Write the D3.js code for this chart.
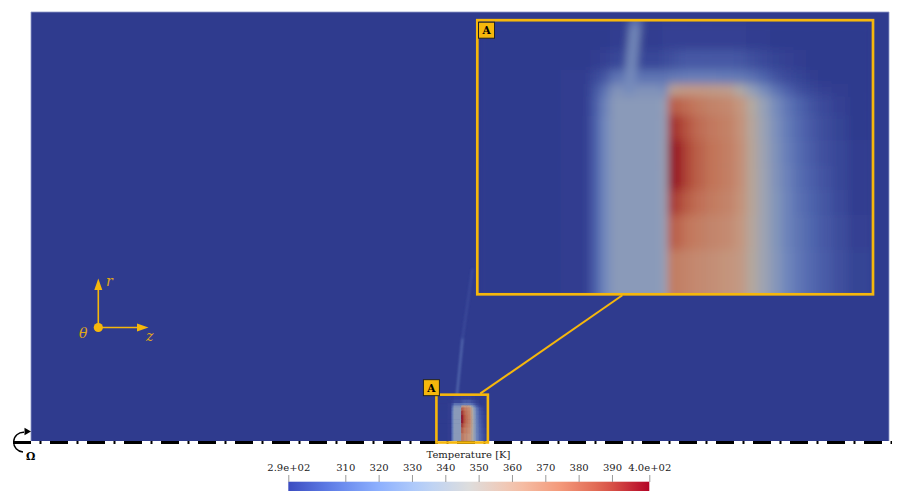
<!DOCTYPE html>
<html>
<head>
<meta charset="utf-8">
<script src="https://cdn.jsdelivr.net/npm/d3@7"></script>
<style>
  body { margin: 0; background: #fff; }
  svg { display: block; }
</style>
</head>
<body>
<svg id="chart" width="899" height="491"></svg>
<script>
// ---- data ----
// temperature field [K] around the two heated parts; z (mm) column edges, r (mm) row edges (top to bottom)
const zEdges = [94.5, 97.01, 97.92, 98.22, 98.52, 100.10, 100.28, 100.53, 100.77, 101.07, 101.44, 101.86,
                102.28, 102.65, 103.01, 103.38, 103.74, 104.10, 104.47, 104.83, 105.26, 105.74, 106.5];
const rEdges = [10.8, 9.63, 8.84, 8.29, 7.81, 7.06, 6.08, 5.09, 4.11, 3.13, 1.75, 0];
const fieldT = [
    [293,293,293,293,294,295,295,295,295,295,295,295,295,294,294,293,293,293,293,293,293,293],
    [293,293,294,295,297,299,300,302,303,303,303,303,302,300,298,296,295,294,293,293,293,293],
    [293,294,298,302,312,312,314,315,316,316,316,315,314,311,306,301,298,296,294,293,293,293],
    [293,294,302,312,326,320,354,358,359,359,358,356,346,333,322,312,305,300,297,295,294,293],
    [293,294,304,318,330,335,382,379,376,372,369,367,361,348,334,322,313,306,301,298,295,293],
    [293,294,305,320,330,336,394,389,383,377,373,370,363,350,336,324,315,308,303,299,296,293],
    [293,294,305,320,330,338,401,394,387,380,375,371,364,351,337,325,316,309,304,300,297,294],
    [293,294,305,320,330,338,401,394,387,380,375,371,364,351,338,326,317,310,305,301,297,294],
    [293,294,305,320,330,337,392,387,381,376,372,369,363,351,338,327,318,311,306,302,298,294],
    [293,294,305,320,330,336,382,378,374,371,368,366,361,350,338,327,318,312,307,303,299,295],
    [293,294,305,320,330,335,372,370,368,366,364,362,359,349,338,328,319,313,308,304,300,296]
];
const ambientT = 293;
// thin warm plume rising from the left part
const plumeZ = [99.1, 99.3, 100.6, 102.9];
const plumeR = [8.0, 10.8, 24, 40];
const plumeT = [326, 318, 302, 295];

// colour bar
const tRange = [292.9, 401.2];
const cbTicks = [292.9, 310, 320, 330, 340, 350, 360, 370, 380, 390, 401.2];
const cbLabels = ["2.9e+02", "310", "320", "330", "340", "350", "360", "370", "380", "390", "4.0e+02"];

// view windows (mm)
const zMain = [0, 200], rMain = [0, 100];
const zZoom = [94.5, 106.5], rZoom = [0, 10.8];

// ---- setup ----
const svg = d3.select('#chart');
const defs = svg.append('defs');
const gold = '#f6b70c';

// ParaView "Cool to Warm"
const cwStops = [[59,76,192],[98,130,234],[141,176,254],[184,208,249],[221,221,221],[245,196,173],[244,154,123],[222,96,77],[180,4,38]];
const coolWarm = d3.piecewise(d3.interpolateRgb, cwStops.map(c => d3.rgb(c[0], c[1], c[2])));
const tScale = d3.scaleLinear().domain(tRange).range([0, 1]).clamp(true);
const shade = [0.8, 0.77, 0.74];   // lit surface is darker than the bar
function fieldColor(T) {
    const c = d3.rgb(coolWarm(tScale(T)));
    return d3.rgb(c.r * shade[0], c.g * shade[1], c.b * shade[2]).formatHex();
}

const x = d3.scaleLinear().domain(zMain).range([31, 889]);
const y = d3.scaleLinear().domain(rMain).range([441, 12]);
const xi = d3.scaleLinear().domain(zZoom).range([477.3, 873]);
const yi = d3.scaleLinear().domain(rZoom).range([294.3, 20.2]);

defs.append('filter').attr('id', 'blurMain')
    .append('feGaussianBlur').attr('stdDeviation', 0.7);
defs.append('filter').attr('id', 'blurPlume')
    .append('feGaussianBlur').attr('stdDeviation', 1.2);
defs.append('filter').attr('id', 'blurInset')
    .attr('x', '-10%').attr('y', '-10%').attr('width', '120%').attr('height', '120%')
    .append('feGaussianBlur').attr('stdDeviation', '4 5');
defs.append('clipPath').attr('id', 'clipMain').append('rect')
    .attr('x', x(zMain[0])).attr('y', y(rMain[1]))
    .attr('width', x(zMain[1]) - x(zMain[0])).attr('height', y(rMain[0]) - y(rMain[1]));
defs.append('clipPath').attr('id', 'clipInset').append('rect')
    .attr('x', xi(zZoom[0])).attr('y', yi(rZoom[1]))
    .attr('width', xi(zZoom[1]) - xi(zZoom[0])).attr('height', yi(rZoom[0]) - yi(rZoom[1]));

const cells = d3.cross(d3.range(rEdges.length - 1), d3.range(zEdges.length - 1))
    .map(([i, j]) => ({i, j, T: fieldT[i][j]}));

function drawPlume(g, xs, ys, w) {
    g.selectAll('line.plume')
        .data(d3.range(plumeZ.length - 1))
        .join('line')
        .attr('class', 'plume')
        .attr('x1', k => xs(plumeZ[k])).attr('y1', k => ys(plumeR[k]))
        .attr('x2', k => xs(plumeZ[k + 1])).attr('y2', k => ys(plumeR[k + 1]))
        .attr('stroke', k => fieldColor((plumeT[k] + plumeT[k + 1]) / 2))
        .attr('stroke-width', w)
        .attr('stroke-linecap', 'round');
}

function drawField(g, xs, ys) {
    const last = rEdges.length - 2;
    g.selectAll('rect.cell')
        .data(cells)
        .join('rect')
        .attr('class', 'cell')
        .attr('x', d => xs(zEdges[d.j]))
        .attr('width', d => xs(zEdges[d.j + 1]) - xs(zEdges[d.j]) + 0.5)
        .attr('y', d => ys(rEdges[d.i]))
        .attr('height', d => ys(d.i === last ? rEdges[d.i + 1] - 1 : rEdges[d.i + 1]) - ys(rEdges[d.i]) + 0.5)
        .attr('fill', d => fieldColor(d.T));
}

// ---- main domain ----
const main = svg.append('g').attr('clip-path', 'url(#clipMain)');
main.append('rect')
    .attr('x', x(zMain[0])).attr('y', y(rMain[1]))
    .attr('width', x(zMain[1]) - x(zMain[0])).attr('height', y(rMain[0]) - y(rMain[1]))
    .attr('fill', fieldColor(ambientT));
drawPlume(main.append('g').attr('filter', 'url(#blurPlume)').attr('opacity', 0.85), x, y, 2.4);
drawField(main.append('g').attr('filter', 'url(#blurMain)'), x, y);
svg.append('path')
    .attr('d', `M${x(zMain[0])},${y(rMain[0])}V${y(rMain[1])}H${x(zMain[1])}V${y(rMain[0])}`)
    .attr('fill', 'none').attr('stroke', '#8f98c8').attr('stroke-width', 1).attr('opacity', 0.8);

// axis of rotation (dash-dot)
svg.append('line')
    .attr('x1', 13).attr('x2', 892).attr('y1', 442.5).attr('y2', 442.5)
    .attr('stroke', '#000').attr('stroke-width', 3)
    .attr('stroke-dasharray', '18,8.5,2,8.5');

// rotation symbol
svg.append('path')
    .attr('d', 'M23,452 A9.5,9.5 0 0 1 24,432.3')
    .attr('fill', 'none').attr('stroke', '#000').attr('stroke-width', 1.4);
svg.append('path')
    .attr('d', 'M31,431.5 L24.5,427.8 L24.5,435.2 Z')
    .attr('fill', '#000');
svg.append('text')
    .attr('x', 26).attr('y', 459.5)
    .attr('font-family', 'DejaVu Serif').attr('font-weight', 'bold').attr('font-size', 10.5)
    .text('Ω');

// ---- coordinate glyph ----
const glyph = svg.append('g').attr('fill', gold).attr('stroke', gold);
const gx = 98.3, gy = 327.5;
glyph.append('line').attr('x1', gx).attr('y1', gy).attr('x2', gx).attr('y2', 288).attr('stroke-width', 1.6);
glyph.append('path').attr('d', `M${gx},278.5 L${gx - 4},290 L${gx + 4},290 Z`).attr('stroke', 'none');
glyph.append('line').attr('x1', gx).attr('y1', gy).attr('x2', 139).attr('y2', gy).attr('stroke-width', 1.6);
glyph.append('path').attr('d', `M148.5,${gy} L137,${gy - 4} L137,${gy + 4} Z`).attr('stroke', 'none');
glyph.append('circle').attr('cx', gx).attr('cy', gy).attr('r', 4.6).attr('stroke', 'none');
const glyphText = [['r', 106, 286], ['z', 146, 341], ['θ', 79, 338]];
glyph.selectAll('text').data(glyphText).join('text')
    .attr('x', d => d[1]).attr('y', d => d[2])
    .attr('stroke', 'none').attr('fill', '#e0a817')
    .attr('font-family', 'DejaVu Serif').attr('font-style', 'italic').attr('font-size', 14)
    .text(d => d[0]);

// ---- zoom box in the main view ----
const bx0 = x(zZoom[0]), bx1 = x(zZoom[1]), by0 = y(rZoom[1]), by1 = y(rZoom[0]) + 1.5;
svg.append('rect')
    .attr('x', bx0).attr('y', by0).attr('width', bx1 - bx0).attr('height', by1 - by0)
    .attr('fill', 'none').attr('stroke', gold).attr('stroke-width', 2.6);

// ---- inset ----
const inset = svg.append('g').attr('clip-path', 'url(#clipInset)');
inset.append('rect')
    .attr('x', xi(zZoom[0])).attr('y', yi(rZoom[1]))
    .attr('width', xi(zZoom[1]) - xi(zZoom[0])).attr('height', yi(rZoom[0]) - yi(rZoom[1]))
    .attr('fill', fieldColor(ambientT));
const insetField = inset.append('g').attr('filter', 'url(#blurInset)');
drawField(insetField, xi, yi);
drawPlume(insetField, xi, yi, xi(zZoom[0] + 0.32) - xi(zZoom[0]));
svg.append('rect')
    .attr('x', xi(zZoom[0])).attr('y', yi(rZoom[1]))
    .attr('width', xi(zZoom[1]) - xi(zZoom[0])).attr('height', yi(rZoom[0]) - yi(rZoom[1]))
    .attr('fill', 'none').attr('stroke', gold).attr('stroke-width', 2.7);

// connector
svg.append('line')
    .attr('x1', x(104.7)).attr('y1', by0 - 1)
    .attr('x2', xi(98.9)).attr('y2', yi(rZoom[0]) + 1)
    .attr('stroke', gold).attr('stroke-width', 2);

// "A" labels
function tag(px, py) {
    const g = svg.append('g').attr('transform', `translate(${px},${py})`);
    g.append('rect').attr('width', 16).attr('height', 16)
        .attr('fill', gold).attr('stroke', '#222').attr('stroke-width', 1);
    g.append('text').attr('x', 8).attr('y', 12.3).attr('text-anchor', 'middle')
        .attr('font-family', 'DejaVu Serif').attr('font-weight', 'bold').attr('font-size', 10.5)
        .attr('fill', '#000').text('A');
}
tag(bx0 - 13, by0 - 15);
tag(xi(zZoom[0]) + 1.2, yi(rZoom[1]) + 2);

// ---- colour bar ----
const cb = d3.scaleLinear().domain(tRange).range([288.3, 649.3]);
const grad = defs.append('linearGradient').attr('id', 'cwGrad');
grad.selectAll('stop').data(d3.range(0, 1.0001, 0.05)).join('stop')
    .attr('offset', d => d).attr('stop-color', d => coolWarm(d));
svg.append('rect')
    .attr('x', cb(tRange[0])).attr('y', 481.7)
    .attr('width', cb(tRange[1]) - cb(tRange[0])).attr('height', 12)
    .attr('fill', 'url(#cwGrad)');

const cbAxis = svg.append('g')
    .attr('transform', 'translate(0,482)')
    .call(d3.axisTop(cb).tickValues(cbTicks).tickSize(7).tickPadding(4)
        .tickFormat((d, i) => cbLabels[i]));
cbAxis.select('.domain').remove();
cbAxis.selectAll('.tick line').attr('stroke', '#9a9a9a');
cbAxis.selectAll('.tick text')
    .attr('font-family', 'DejaVu Serif').attr('font-size', 10).attr('fill', '#222')
    .attr('dy', 0);
svg.append('text')
    .attr('x', 468.5).attr('y', 457.5).attr('text-anchor', 'middle')
    .attr('font-family', 'DejaVu Serif').attr('font-size', 10).attr('fill', '#222')
    .text('Temperature [K]');
</script>
</body>
</html>
